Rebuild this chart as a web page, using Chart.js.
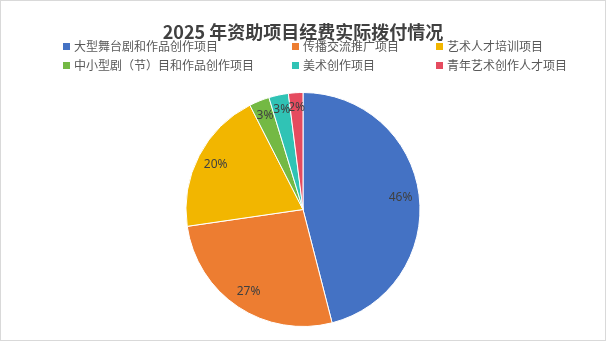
<!DOCTYPE html>
<html>
<head>
<meta charset="utf-8">
<script src="https://cdn.jsdelivr.net/npm/chart.js@4.4.1/dist/chart.umd.min.js"></script>
<style>
    body { margin: 0; background: #fff; font-family: "Noto Sans CJK SC", "Noto Sans", sans-serif; }
    #wrap { position: relative; width: 606px; height: 341px; }
    #frame { position: absolute; left: 0; top: 0; width: 604px; height: 339px; border: 1px solid #d9d9d9; pointer-events: none; }
    #title { position: absolute; left: 0; top: 18px; width: 606px; text-align: center; font-size: 18px; font-weight: bold; color: #404040; line-height: 26px; }
    .lg { position: absolute; font-size: 12px; color: #595959; line-height: 16px; white-space: nowrap; }
    .lg i { display: inline-block; width: 7px; height: 7px; margin-right: 4px; vertical-align: 1px; }
</style>
</head>
<body>
<div id="wrap">
    <canvas id="pie" width="606" height="341"></canvas>
    <div id="title"></div>
    <div id="legend"></div>
    <div id="frame"></div>
</div>
<script>
    const chartTitle = '2025 年资助项目经费实际拨付情况';
    const categories = ['大型舞台剧和作品创作项目', '传播交流推广项目', '艺术人才培训项目',
        '中小型剧（节）目和作品创作项目', '美术创作项目', '青年艺术创作人才项目'];
    const shares = [46.0, 26.7, 19.8, 2.8, 2.7, 2.0];
    const colors = ['#4472C4', '#ED7D31', '#F2B600', '#74B944', '#30C3B5', '#E54B5F'];

    document.getElementById('title').textContent = chartTitle;

    // legend laid out in two rows of three, like the original
    const legendPos = [[63, 38], [292, 38], [436, 38], [63, 57], [292, 57], [436, 57]];
    const legend = document.getElementById('legend');
    categories.forEach((name, i) => {
        const d = document.createElement('div');
        d.className = 'lg';
        d.style.left = legendPos[i][0] + 'px';
        d.style.top = legendPos[i][1] + 'px';
        d.innerHTML = '<i style="background:' + colors[i] + '"></i>' + name;
        legend.appendChild(d);
    });

    const pctLabels = {
        id: 'pctLabels',
        afterDatasetsDraw(chart) {
            const ctx = chart.ctx;
            const data = chart.data.datasets[0].data;
            const total = data.reduce((a, b) => a + b, 0);
            ctx.save();
            ctx.font = '12px "Noto Sans", sans-serif';
            ctx.fillStyle = '#404040';
            ctx.textAlign = 'center';
            ctx.textBaseline = 'middle';
            chart.getDatasetMeta(0).data.forEach((arc, i) => {
                const mid = (arc.startAngle + arc.endAngle) / 2;
                const r = arc.outerRadius * (data[i] < 5 ? 0.87 : 0.84);
                ctx.fillText(Math.round(data[i] / total * 100) + '%', arc.x + Math.cos(mid) * r, arc.y + Math.sin(mid) * r);
            });
            ctx.restore();
        }
    };

    new Chart(document.getElementById('pie'), {
        type: 'pie',
        data: {
            labels: categories,
            datasets: [{ data: shares, backgroundColor: colors, borderColor: '#fff', borderWidth: 1, hoverOffset: 0 }]
        },
        options: {
            responsive: false, animation: false,
            layout: { padding: { top: 92, bottom: 14 } },
            plugins: { legend: { display: false }, title: { display: false }, tooltip: { enabled: false } }
        },
        plugins: [pctLabels]
    });
</script>
</body>
</html>
